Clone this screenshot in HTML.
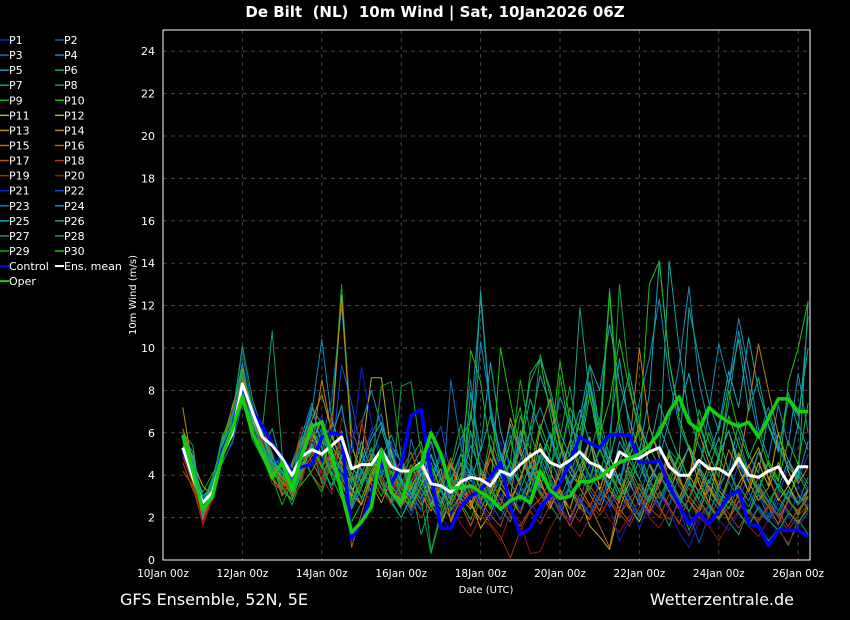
<!DOCTYPE html>
<html><head><meta charset="utf-8"><style>
html,body{margin:0;padding:0;background:#000;}
svg{display:block;font-family:"DejaVu Sans","Liberation Sans",sans-serif;}
</style></head><body>
<svg id="chart" width="850" height="620" viewBox="0 0 850 620">
<rect x="0" y="0" width="850" height="620" fill="#000"/>
<text x="435" y="17" fill="#fff" font-size="15" font-weight="bold" text-anchor="middle" style="white-space:pre" xml:space="preserve">De Bilt  (NL)  10m Wind | Sat, 10Jan2026 06Z</text>
<g id="grid"></g>
<g id="series"></g>
<rect x="163" y="30" width="647" height="530" fill="none" stroke="#fff" stroke-width="1"/>
<g id="axes"></g>
<text x="136" y="295" fill="#fff" font-size="10" text-anchor="middle" transform="rotate(-90 136 295)">10m Wind (m/s)</text>
<text x="486" y="593" fill="#fff" font-size="10" text-anchor="middle">Date (UTC)</text>
<g id="legend"></g>
<text x="120" y="605" fill="#fff" font-size="16">GFS Ensemble, 52N, 5E</text>
<text x="794" y="605" fill="#fff" font-size="16" text-anchor="end">Wetterzentrale.de</text>
</svg>
<script>
const yTicks=[0,2,4,6,8,10,12,14,16,18,20,22,24];
const xTickLabels=["10Jan 00z","12Jan 00z","14Jan 00z","16Jan 00z","18Jan 00z","20Jan 00z","22Jan 00z","24Jan 00z","26Jan 00z"];
const xTickHours=[0,48,96,144,192,240,288,336,384];
const startHour=12, stepHours=6;
const control=[5.2,4.0,2.5,3.0,5.2,6.2,8.2,7.0,6.3,5.5,4.8,4.2,4.4,4.5,5.8,6.0,5.9,1.0,1.8,3.0,4.7,3.6,4.5,6.8,7.1,4.0,1.5,1.5,2.5,3.0,3.3,3.9,4.6,2.5,1.2,1.5,2.5,3.0,3.6,4.6,5.8,5.5,5.3,5.9,5.9,5.9,4.6,4.6,4.7,3.5,2.6,1.7,2.2,1.7,2.3,3.0,3.3,1.7,1.6,0.7,1.4,1.4,1.4,1.1];
const oper=[5.9,4.2,2.4,3.0,5.0,6.2,7.7,6.0,5.0,3.9,4.6,3.3,5.0,6.3,6.5,5.0,3.2,1.3,1.8,2.5,5.2,3.2,2.7,4.2,4.5,6.0,5.0,3.4,3.4,3.5,3.2,2.9,2.4,2.8,3.0,2.7,4.2,3.3,2.9,3.0,3.7,3.7,3.9,4.3,4.6,4.8,5.0,5.4,6.0,7.0,7.7,6.5,6.1,7.2,6.8,6.5,6.3,6.5,5.8,6.7,7.6,7.6,7.0,7.0];
const ensMean=[5.3,3.9,2.7,3.2,5.0,6.0,8.3,7.0,5.8,5.4,4.8,4.0,4.9,5.2,5.0,5.4,5.8,4.3,4.5,4.5,5.2,4.4,4.2,4.2,4.6,3.6,3.5,3.2,3.7,3.9,3.8,3.5,4.2,4.0,4.5,4.9,5.2,4.6,4.4,4.7,5.1,4.6,4.4,3.9,5.1,4.8,4.8,5.1,5.3,4.4,4.0,4.0,4.7,4.3,4.3,4.0,4.8,4.0,3.9,4.2,4.4,3.6,4.4,4.4];
const P1=[5.0,3.8,2.2,3.4,5.3,6.5,8.0,7.4,6.0,5.1,4.2,3.6,4.8,5.5,6.8,5.2,4.1,3.0,4.6,6.2,5.0,3.8,2.9,3.6,4.5,2.8,2.0,1.4,2.6,3.8,2.4,3.5,5.6,4.3,2.8,3.9,4.8,3.1,2.2,3.7,5.2,4.4,3.0,2.6,3.8,2.9,1.5,2.7,3.9,3.2,2.4,1.1,2.3,3.6,2.8,1.9,2.7,4.1,3.3,2.2,1.6,2.8,3.5,2.6];
const P2=[5.6,4.4,2.0,3.1,5.8,7.0,9.8,7.2,5.5,4.6,3.8,4.2,5.2,6.9,6.0,4.8,9.2,7.4,5.1,3.7,4.3,5.6,3.1,2.5,3.9,5.3,6.3,4.0,2.9,6.0,4.8,3.9,2.8,4.2,5.7,4.1,3.3,2.6,4.9,6.8,5.0,3.6,4.5,2.8,2.0,3.4,4.8,3.7,2.5,3.6,4.2,2.2,0.8,2.1,3.5,2.9,4.6,3.2,2.3,1.8,3.0,4.4,3.7,5.0];
const P3=[5.2,3.6,2.6,3.8,5.1,6.2,7.6,6.8,6.1,4.4,4.9,3.4,4.1,4.7,5.6,7.6,12.0,6.2,4.8,5.9,6.9,4.4,3.2,2.3,3.6,4.9,3.6,2.8,5.0,8.5,3.9,2.6,4.4,5.9,3.4,2.5,3.8,4.6,5.5,3.2,2.7,4.6,3.8,4.9,6.4,4.0,2.9,4.5,3.3,2.6,4.0,5.4,4.2,3.0,2.4,3.7,5.8,4.2,3.1,2.0,3.3,2.9,4.1,3.4];
const P4=[5.4,4.1,2.3,3.3,4.9,5.9,8.5,6.4,5.6,4.9,3.4,4.6,5.9,7.4,5.3,4.0,5.4,3.6,6.4,8.0,6.3,5.2,3.9,2.6,4.4,3.4,2.6,4.2,5.7,6.6,12.4,6.8,5.1,3.8,4.7,6.1,7.2,5.8,4.3,5.0,6.6,8.2,5.6,4.4,3.6,5.3,7.5,9.5,12.3,8.6,6.4,5.2,4.1,7.0,10.2,8.3,11.4,9.0,6.2,4.8,7.3,5.4,8.8,6.0];
const P5=[5.0,4.4,2.5,3.6,4.8,6.8,7.9,6.6,5.2,4.3,3.9,3.0,4.5,5.1,4.6,3.3,4.9,2.4,3.4,5.0,3.8,2.7,2.0,3.0,4.2,5.6,3.9,2.9,4.6,3.7,5.2,9.3,6.1,4.4,3.5,6.2,8.7,7.3,5.4,4.3,6.7,9.2,8.0,11.1,8.4,6.6,5.1,7.8,14.1,9.4,7.0,8.8,6.5,4.9,6.3,8.9,7.2,10.5,8.0,6.4,5.2,7.5,6.8,10.0];
const P6=[5.8,4.9,2.7,3.0,5.4,6.0,7.8,6.9,5.3,6.2,4.4,3.7,4.8,6.0,4.9,4.3,6.1,3.8,5.6,4.2,3.9,5.4,4.6,3.1,2.4,3.7,4.9,3.4,2.9,7.9,5.1,6.8,4.5,3.6,5.3,7.6,6.0,4.8,3.7,5.6,7.1,5.5,4.0,5.9,9.5,6.1,4.7,6.3,5.0,14.1,10.0,6.8,5.4,4.3,5.8,4.2,6.5,5.0,4.1,6.9,5.3,4.4,3.8,12.2];
const P7=[6.0,5.4,2.1,3.9,5.6,6.8,10.1,7.6,6.1,10.8,5.0,3.2,4.0,5.4,3.6,5.1,4.3,3.3,4.0,5.3,4.1,5.2,2.6,3.5,1.2,2.7,3.9,2.3,3.1,4.2,2.8,3.6,2.4,1.8,3.3,4.5,3.2,2.6,1.9,3.5,4.9,4.0,3.3,2.8,4.1,3.0,2.1,3.5,2.6,1.6,2.9,1.4,2.5,3.8,2.9,1.8,1.2,2.4,1.7,0.9,1.5,0.7,1.9,1.2];
const P8=[5.7,4.7,2.9,3.5,5.7,7.2,9.0,6.6,5.8,4.6,3.6,2.6,3.9,5.8,5.5,6.4,13.0,5.6,3.5,4.6,3.3,2.8,8.2,8.4,5.0,0.4,2.3,3.6,5.0,4.4,3.3,5.9,4.3,3.8,6.8,5.2,9.7,7.8,5.6,4.4,3.8,5.0,6.7,4.9,13.0,8.3,5.8,4.6,3.7,5.2,4.6,3.5,7.1,5.6,4.8,3.9,5.1,4.0,3.2,4.6,3.4,2.8,4.3,3.6];
const P9=[5.5,4.2,3.2,4.1,4.6,5.6,7.4,6.2,5.4,4.4,3.8,3.4,4.6,5.0,6.0,4.6,3.6,2.9,5.2,3.7,4.8,3.5,4.0,4.8,5.6,3.0,2.5,3.9,2.7,1.9,3.2,2.4,3.6,4.7,3.5,2.9,4.4,6.0,4.5,3.3,2.4,3.8,5.2,4.1,2.9,3.6,4.7,3.4,2.6,3.9,5.0,3.7,2.8,2.1,3.5,4.3,3.0,2.2,3.1,2.5,3.6,2.9,4.0,3.2];
const P10=[5.9,4.5,2.4,3.7,5.9,6.6,8.7,7.1,5.9,4.8,4.1,3.0,3.6,4.2,5.1,3.9,2.9,1.8,2.7,3.9,3.0,4.2,3.4,2.6,3.5,4.6,3.3,2.4,3.0,7.0,4.2,3.1,10.0,7.5,5.2,8.8,9.5,6.9,4.8,7.2,6.1,8.3,5.9,7.5,10.4,8.0,6.2,5.3,4.4,3.6,4.9,3.8,6.6,5.0,3.9,6.8,5.4,4.1,3.3,4.7,3.8,5.6,4.5,7.4];
const P11=[5.1,3.9,2.8,3.2,5.5,6.3,9.0,6.7,5.2,4.1,4.6,3.9,5.0,6.2,4.9,5.4,4.6,3.4,2.6,4.0,5.1,3.2,2.5,3.4,4.4,3.1,1.7,2.8,3.9,2.6,1.9,3.1,4.3,3.0,2.2,3.6,5.5,4.2,3.1,2.4,4.0,5.8,3.3,4.9,3.7,2.5,1.8,3.0,4.1,3.2,4.4,5.3,3.6,2.7,4.9,6.1,4.3,3.2,4.6,3.5,6.0,4.2,3.1,2.4];
const P12=[5.4,4.6,3.5,3.0,5.0,6.0,8.2,6.3,5.7,4.5,3.9,3.5,4.4,5.6,6.6,4.4,3.9,3.0,4.9,8.6,8.6,5.0,3.8,2.9,4.1,2.6,3.5,4.5,3.3,2.8,1.5,2.2,3.4,2.7,3.9,5.1,3.8,2.5,3.3,2.0,2.9,1.6,1.1,0.5,2.4,3.7,2.6,3.8,4.6,3.4,2.9,4.0,3.2,4.5,3.3,2.7,3.6,4.4,5.3,3.9,2.8,3.5,2.6,3.3];
const P13=[7.2,4.3,2.6,3.4,5.2,5.8,8.0,6.8,5.0,3.8,3.3,4.1,5.4,6.6,7.8,6.1,12.5,5.3,4.2,3.6,2.7,3.8,4.7,3.4,2.6,3.5,4.3,1.8,2.9,2.4,3.6,5.2,4.0,6.7,5.1,3.7,6.2,7.6,5.4,4.1,3.5,5.7,4.4,3.3,2.7,4.8,6.4,4.5,3.6,4.9,3.8,2.9,4.3,3.4,2.6,3.9,5.0,3.7,2.8,3.4,4.6,3.5,2.7,3.0];
const P14=[6.2,4.8,2.2,3.1,5.7,6.4,8.9,7.0,5.5,4.2,3.7,3.2,4.7,5.3,8.5,6.0,4.4,3.1,2.6,3.9,4.8,3.5,2.8,3.7,3.1,2.3,3.5,4.6,3.6,2.7,3.4,4.8,3.7,2.9,6.1,4.6,3.5,2.9,4.1,5.6,4.2,3.1,2.3,3.6,4.7,5.4,10.0,6.3,4.8,3.9,2.7,3.8,6.0,4.6,3.5,5.2,4.3,7.2,10.2,8.0,5.9,4.7,3.6,4.4];
const P15=[5.3,3.7,1.9,3.3,5.4,7.3,8.6,6.5,5.0,4.0,3.1,3.6,4.2,4.9,5.7,4.1,3.7,2.5,3.8,4.9,3.6,2.7,3.4,4.3,5.2,3.8,2.9,1.9,3.2,2.5,4.1,3.3,2.6,3.9,5.3,4.0,3.1,2.4,3.5,4.6,3.4,2.6,1.6,0.6,3.0,4.2,3.1,2.3,3.8,5.1,3.9,2.8,2.2,3.5,2.7,1.9,3.2,4.5,3.3,2.5,1.7,2.9,2.1,3.3];
const P16=[5.0,4.0,2.0,3.5,5.0,6.1,8.8,6.9,6.3,5.0,3.5,4.5,5.8,4.6,3.8,5.3,6.0,0.6,2.2,3.8,5.0,3.3,2.6,3.7,4.6,3.6,2.7,3.4,4.5,3.4,2.6,5.4,4.0,2.9,3.8,5.0,3.6,2.7,4.4,3.6,2.5,1.9,3.0,4.3,3.2,2.4,3.6,2.8,3.5,4.6,3.5,2.9,3.9,2.7,2.0,3.0,2.4,3.4,5.1,3.8,2.9,2.3,1.7,2.6];
const P17=[4.2,3.5,1.7,3.0,5.3,6.7,8.4,6.2,5.6,4.7,3.0,3.9,5.1,4.0,3.4,4.8,5.5,3.6,6.4,4.8,3.8,3.1,4.2,5.1,3.7,2.8,3.6,4.8,2.6,1.6,2.9,3.8,2.9,2.1,1.6,2.4,2.9,3.7,2.5,1.6,2.6,3.5,2.8,3.3,2.4,1.8,2.9,2.2,3.2,2.5,1.7,3.0,2.4,3.3,2.6,1.9,2.8,2.2,3.5,2.7,2.0,2.8,2.3,2.9];
const P18=[4.6,3.3,2.4,2.8,4.8,6.0,7.7,6.0,4.9,4.1,3.9,3.1,4.0,5.9,4.4,5.0,3.2,2.7,3.7,4.6,5.3,3.9,3.0,2.4,3.4,2.5,1.9,3.3,2.4,3.5,2.8,2.1,1.6,2.8,2.2,3.4,2.6,3.3,2.2,1.9,3.1,2.5,3.6,2.7,2.1,2.9,3.4,2.5,2.0,3.1,2.4,2.8,2.0,2.6,1.9,2.5,3.0,2.2,1.8,2.5,2.2,1.6,2.4,2.9];
const P19=[4.9,3.6,1.7,3.2,5.1,6.2,8.1,6.4,5.1,3.6,3.3,4.3,6.3,5.1,4.1,6.9,4.9,4.1,3.3,2.8,3.6,4.6,3.5,2.7,2.0,2.8,3.7,3.0,2.3,3.3,2.5,1.7,1.1,0.1,1.4,2.3,1.7,2.6,3.4,2.4,1.8,2.7,2.1,2.9,2.2,1.6,2.5,3.1,2.4,1.9,2.7,3.4,2.6,2.0,2.8,2.2,1.5,2.3,1.9,2.6,2.0,1.4,2.1,2.6];
const P20=[5.5,4.2,1.6,2.9,5.0,6.5,8.3,6.1,5.7,4.3,3.5,2.9,3.7,5.6,3.9,3.1,6.7,5.7,6.6,4.0,3.3,2.6,3.4,4.4,3.2,2.6,1.9,2.7,1.7,1.1,2.1,1.6,0.9,2.2,1.8,0.3,0.4,1.5,2.3,1.7,1.1,2.0,2.7,1.9,1.3,2.1,2.8,2.0,1.5,2.4,1.8,1.2,2.0,1.6,0.9,1.7,2.3,1.6,1.1,1.9,1.4,0.8,1.6,2.2];
const P21=[5.2,3.9,2.5,3.2,5.3,6.6,8.1,7.2,6.4,5.6,4.4,3.4,4.7,5.6,4.6,6.2,7.1,5.0,9.1,6.5,4.4,5.5,3.7,3.0,2.3,6.2,4.6,2.1,2.9,3.6,2.6,1.9,3.1,2.4,3.5,2.7,2.0,3.3,2.6,1.8,2.9,2.2,3.2,2.5,0.9,1.9,2.8,2.1,3.1,2.4,1.3,0.6,1.8,2.5,1.9,1.4,2.2,1.7,2.6,1.9,1.3,2.1,1.6,2.3];
const P22=[5.6,4.5,2.9,3.6,4.7,5.5,7.5,6.3,5.4,4.7,4.5,3.5,5.2,6.4,5.2,4.3,3.8,3.2,2.8,3.4,4.2,3.6,2.9,2.1,3.3,4.1,3.2,2.5,3.6,4.4,3.4,2.7,1.9,3.0,2.4,3.3,4.2,3.1,2.4,3.5,2.8,2.1,3.2,2.5,3.4,2.7,2.0,3.1,2.6,3.8,2.9,2.3,3.3,2.5,1.9,2.8,2.3,3.2,2.4,1.8,2.7,2.2,3.0,2.5];
const P23=[5.3,4.0,2.2,3.7,5.6,6.3,8.0,6.0,5.2,4.5,4.7,3.8,4.3,5.3,6.2,4.7,4.0,3.5,4.1,5.2,4.0,3.1,2.4,5.7,4.1,3.0,2.2,8.5,5.4,3.9,2.7,3.6,4.9,3.7,2.8,4.0,5.3,3.9,2.9,3.4,4.5,3.3,2.6,3.9,5.0,3.6,2.7,3.5,4.7,3.5,2.6,3.8,2.8,2.2,3.3,4.4,3.2,2.5,3.6,2.8,2.1,3.2,2.6,3.4];
const P24=[5.7,4.3,2.1,3.3,5.5,6.0,7.7,6.5,5.3,4.2,4.1,3.9,5.5,7.0,10.4,6.6,5.2,2.5,4.3,3.2,4.8,5.9,4.5,3.5,2.9,3.9,5.1,3.6,2.8,4.3,10.3,7.3,5.0,3.8,6.0,4.5,3.4,5.1,7.7,6.4,5.3,8.4,6.3,4.5,3.7,5.6,4.4,3.5,4.8,6.6,9.2,12.9,8.4,6.3,4.9,7.4,10.8,8.1,5.8,7.2,5.5,4.3,6.4,5.2];
const P25=[5.9,4.7,3.0,3.5,5.2,6.4,8.2,6.7,5.9,4.6,4.2,3.3,5.0,6.5,5.7,4.9,4.2,3.7,4.5,5.7,6.5,4.9,3.7,3.1,4.0,5.0,3.8,2.9,3.7,5.4,4.3,3.5,4.6,6.4,5.0,3.9,4.8,5.9,4.6,3.6,4.4,5.7,4.3,3.4,5.6,4.7,3.8,5.2,6.3,5.1,4.1,5.4,4.4,3.6,4.9,6.1,4.6,3.7,5.1,4.2,3.4,4.7,3.9,5.6];
const P26=[5.8,5.1,2.6,3.8,5.5,6.9,9.3,6.8,6.0,4.9,3.9,4.4,5.6,7.2,6.4,5.8,7.3,4.5,3.6,4.8,6.2,4.7,3.6,2.9,4.7,3.8,2.7,3.8,5.0,3.9,12.7,7.0,4.9,3.9,5.6,8.4,9.5,8.1,6.0,4.9,11.9,7.7,5.7,4.6,6.9,8.8,6.5,5.1,7.4,6.0,4.8,11.9,9.5,7.4,6.1,8.3,10.4,7.0,8.6,6.3,5.1,7.9,6.2,11.5];
const P27=[5.6,4.6,2.3,3.6,5.8,6.2,8.6,6.3,5.5,4.5,3.2,2.9,4.4,5.2,4.4,3.5,5.0,4.1,2.9,4.1,3.4,2.8,2.0,2.9,3.8,2.6,1.8,2.9,3.7,6.1,3.7,2.8,3.9,5.6,4.2,3.2,4.9,3.7,2.9,4.0,5.4,9.2,6.2,12.8,6.7,5.0,3.8,2.8,4.1,3.2,2.5,3.6,2.9,4.2,3.1,2.4,3.5,2.8,3.9,3.0,2.3,3.3,2.7,3.9];
const P28=[5.4,4.4,2.7,3.9,5.0,6.7,8.9,7.3,5.1,4.0,3.7,4.0,5.8,6.1,5.4,4.0,3.5,2.7,3.5,4.4,8.2,8.4,4.8,3.6,2.8,0.3,2.1,3.2,4.1,3.1,2.4,3.3,4.7,3.6,2.9,3.7,5.0,4.3,5.8,8.2,5.1,3.9,5.3,4.1,3.2,4.4,3.4,2.7,3.9,5.0,3.7,2.9,4.1,3.3,2.6,3.7,2.9,2.2,3.4,2.7,3.6,2.8,2.2,3.0];
const P29=[5.1,4.1,2.8,3.2,5.4,6.5,7.6,5.7,4.8,3.9,2.6,3.7,4.9,4.0,3.2,4.6,3.9,2.8,3.7,4.8,3.6,2.8,3.6,4.5,3.4,2.5,3.3,4.4,6.4,4.6,3.3,2.5,3.5,4.6,8.5,6.0,4.6,3.4,8.7,5.9,4.4,3.3,4.5,3.5,2.8,3.9,5.1,3.8,2.9,3.9,3.0,2.3,3.2,2.6,1.9,2.8,2.2,1.6,2.5,1.9,1.4,2.2,1.8,2.4];
const P30=[5.2,4.0,2.4,3.4,5.1,6.1,8.0,5.9,5.4,4.3,3.4,2.8,4.2,5.5,4.3,5.8,4.8,3.9,2.9,4.2,5.3,4.1,3.1,2.5,3.5,4.4,3.3,2.6,3.6,9.9,8.4,5.2,4.0,5.6,7.2,4.3,6.4,5.1,9.4,6.6,5.1,7.8,5.3,12.6,6.0,4.9,6.1,13.0,14.1,9.4,6.7,5.3,4.4,6.0,4.7,8.0,6.1,4.8,5.9,4.5,3.7,8.4,10.0,12.2];
const members=[P1,P2,P3,P4,P5,P6,P7,P8,P9,P10,P11,P12,P13,P14,P15,P16,P17,P18,P19,P20,P21,P22,P23,P24,P25,P26,P27,P28,P29,P30];
const memberColors=["#1028c8","#1050c8","#1070c0","#1090c0","#10a8b8","#10a890","#10a060","#10a040","#10b020","#20c010","#b8b810","#c0b010","#c09010","#c08010","#c07010","#c06010","#c05010","#b04010","#a03010","#901818","#1020c8","#1050c8","#1070c0","#1090c0","#10a8b8","#10a890","#10a060","#10a040","#10b020","#20c010"];

const NS="http://www.w3.org/2000/svg";
const X0=163,X1=810,Y0=560,Y1=30,YMAX=25,PXDAY=39.7;
function xs(h){return X0+h/24*PXDAY;}
function ys(v){return Y0-(v/YMAX)*(Y0-Y1);}
function mk(tag,attrs,parent){const e=document.createElementNS(NS,tag);for(const k in attrs)e.setAttribute(k,attrs[k]);parent.appendChild(e);return e;}

const grid=document.getElementById('grid'),axes=document.getElementById('axes');
yTicks.forEach(v=>{
  const l=mk('line',{x1:X0,x2:X1,y1:ys(v),y2:ys(v),stroke:'#444',"stroke-dasharray":'4,4'},grid);
  
  
  const t=mk('text',{x:155,y:ys(v)+4,fill:'#fff',"font-size":11,"text-anchor":'end'},axes);
  t.textContent=v;
  
  
});
xTickHours.forEach((h,i)=>{
  const l=mk('line',{x1:xs(h),x2:xs(h),y1:Y1,y2:Y0,stroke:'#444',"stroke-dasharray":'4,4'},grid);
  
  
  const t=mk('text',{x:xs(h),y:577,fill:'#fff',"font-size":10.5,"text-anchor":'middle'},axes);
  t.textContent=xTickLabels[i];
  
  
});
const series=document.getElementById('series');
function pts(arr){return arr.map((v,i)=>xs(startHour+i*stepHours).toFixed(1)+','+ys(v).toFixed(1)).join(' ');}
members.forEach((arr,k)=>{
  const p=mk('polyline',{points:pts(arr),fill:'none',stroke:memberColors[k],"stroke-width":1,"stroke-linejoin":'round'},series);
  
  
});
const c=mk('polyline',{points:pts(control),fill:'none',stroke:'#0000ff',"stroke-width":3.5,"stroke-linejoin":'round'},series);


const m=mk('polyline',{points:pts(ensMean),fill:'none',stroke:'#ffffff',"stroke-width":3,"stroke-linejoin":'round'},series);


const o=mk('polyline',{points:pts(oper),fill:'none',stroke:'#10d010',"stroke-width":3.5,"stroke-linejoin":'round'},series);



const legend=document.getElementById('legend');
const legItems=[];
for(let i=0;i<30;i++)legItems.push({label:'P'+(i+1),color:memberColors[i],w:1.5});
legItems.push({label:'Control',color:'#0000ff',w:2});
legItems.push({label:'Ens. mean',color:'#ffffff',w:2});
legItems.push({label:'Oper',color:'#10d010',w:2});
legItems.forEach((it,i)=>{
  const col=i%2,row=Math.floor(i/2);
  const lx=col?55:0, y=40+row*15.07;
  const g=mk('g',{},legend);
  
  
  mk('line',{x1:lx,x2:lx+9,y1:y,y2:y,stroke:it.color,"stroke-width":it.w},g);
  const t=mk('text',{x:lx+9,y:y+4,fill:'#fff',"font-size":11},g);
  t.textContent=it.label;
});
</script>
</body></html>
